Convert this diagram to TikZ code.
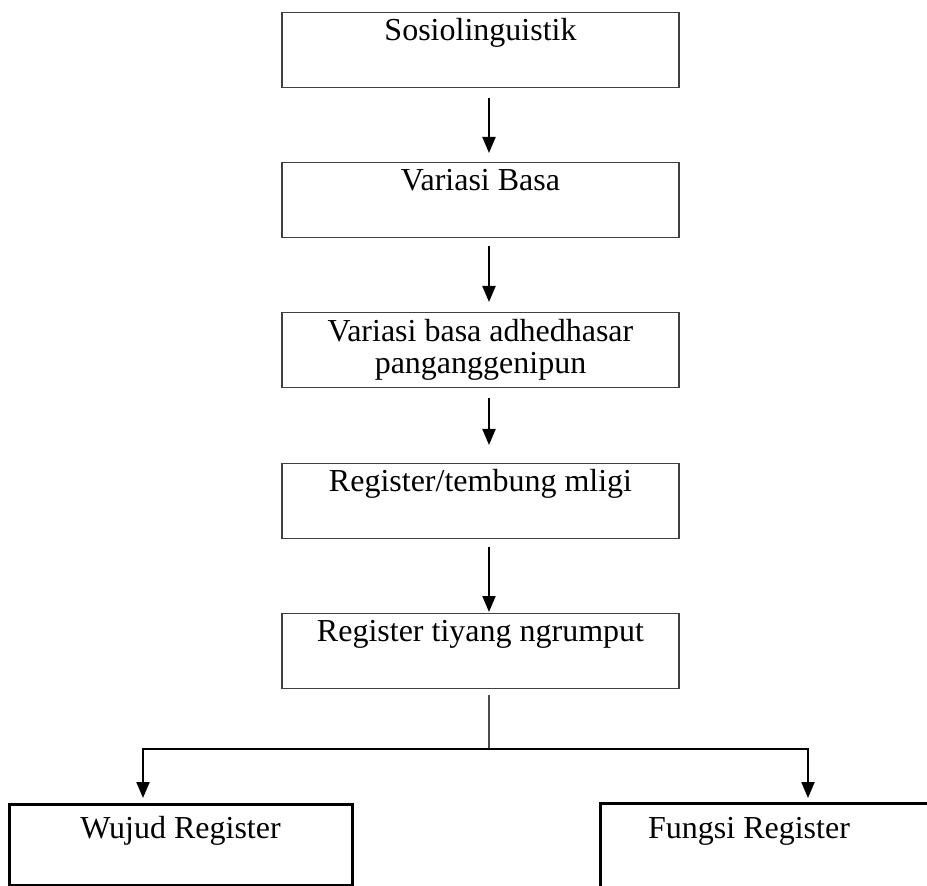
\documentclass[tikz,border=0pt]{standalone}
\usepackage{fontspec}
\setmainfont{Liberation Serif}
\usetikzlibrary{arrows.meta,calc}

\begin{document}
\begin{tikzpicture}[x=0.5pt, y=0.5pt,
  every node/.style = {font=\fontsize{16}{16}\selectfont},
  stepbox/.style = {shape=rectangle, draw=black!75, line width=0.6pt,
    minimum width=198.5pt, minimum height=37.5pt, inner ysep=0pt,
    anchor=north, align=center},
  topline/.style = {text height=14pt, text depth=23.5pt},
  regbox/.style = {shape=rectangle, draw, line width=1.5pt,
    minimum height=40.5pt, inner ysep=0pt, anchor=north,
    text height=17pt, text depth=23.5pt},
  flow/.style = {-{Triangle[width=6.5pt,length=8pt]}, line width=1.1pt},
  link/.style = {draw=black!70, line width=0.8pt}]
  \useasboundingbox (0,0) rectangle (927,885);

  \node[stepbox, topline] (sosio) at (480.5,873) {Sosiolinguistik};
  \node[stepbox, topline] (variasi) at (480.5,723) {Variasi Basa};
  \node[stepbox] (panganggen) at (480.5,573) {Variasi basa adhedhasar\\panganggenipun};
  \node[stepbox, topline] (mligi) at (480.5,422) {Register/tembung mligi};
  \node[stepbox, topline] (tiyang) at (480.5,272) {Register tiyang ngrumput};
  \node[regbox, minimum width=171.5pt] (wujud) at (180.5,82) {Wujud Register};
  \node[regbox, draw=none, minimum width=147pt] (fungsi) at (749,82) {Fungsi Register};
  \draw[line width=1.5pt] (fungsi.south west) -- (fungsi.north west) -- ++(330,0);

  \draw[flow] ($(sosio.south)+(8.5,-10)$) -- ($(variasi.north)+(8.5,9)$);
  \draw[flow] ($(variasi.south)+(8.5,-8)$) -- ($(panganggen.north)+(8.5,10)$);
  \draw[flow] ($(panganggen.south)+(8.5,-10)$) -- ($(mligi.north)+(8.5,18)$);
  \draw[flow] ($(mligi.south)+(8.5,-8)$) -- ($(tiyang.north)+(8.5,1)$);

  \coordinate (split) at (489,136);
  \draw[link] ($(tiyang.south)+(8.5,-6)$) -- (split);
  \draw[flow] (split) -| ($(wujud.north)+(-37.5,5)$);
  \draw[flow] (split) -| ($(fungsi.north)+(59,5)$);
\end{tikzpicture}
\end{document}
